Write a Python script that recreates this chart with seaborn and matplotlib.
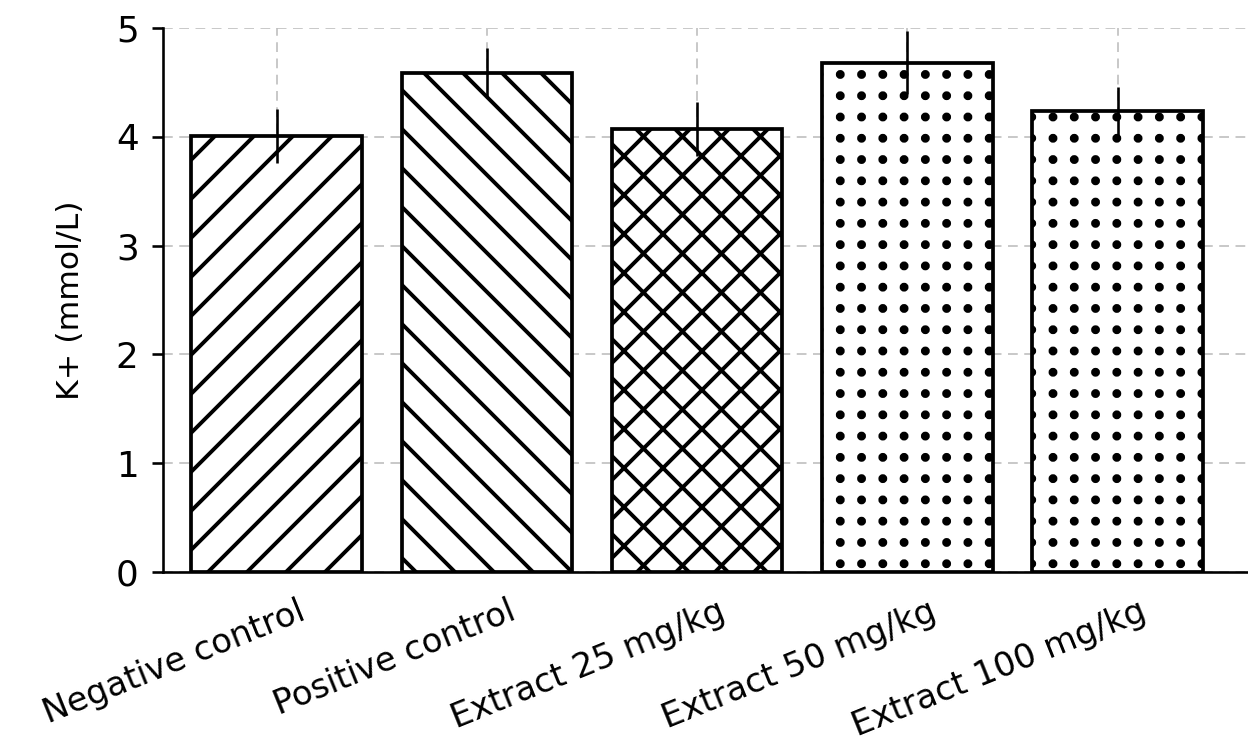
import numpy as np
import pandas as pd
import matplotlib
matplotlib.use("Agg")
import matplotlib.pyplot as plt
import matplotlib.hatch as mhatch
import matplotlib.transforms as mtransforms
from matplotlib.path import Path
import seaborn as sns

# data
groups = ["Negative control", "Positive control", "Extract 25 mg/kg",
          "Extract 50 mg/kg", "Extract 100 mg/kg"]
means = [4.01, 4.59, 4.07, 4.68, 4.24]
errs = [0.25, 0.23, 0.25, 0.29, 0.22]
hatches = ["//", "\\\\", "xx", ".", "."]


# '.' hatch as a square grid of dots instead of the staggered default
class SquareDots(mhatch.HatchPatternBase):
    def __init__(self, hatch, density):
        self.num_rows = hatch.count(".") * 11
        circle = Path.unit_circle()
        self.shape_vertices = circle.vertices
        self.shape_codes = circle.codes
        self.num_vertices = self.num_rows ** 2 * len(circle.vertices)

    def set_vertices_and_codes(self, vertices, codes):
        step = 1.0 / self.num_rows
        k = len(self.shape_vertices)
        i = 0
        for r in range(self.num_rows):
            for c in range(self.num_rows):
                vertices[i:i + k] = self.shape_vertices * 0.0105 + ((c + 0.5) * step, (r + 0.5) * step)
                codes[i:i + k] = self.shape_codes
                i += k


mhatch._hatch_types[mhatch._hatch_types.index(mhatch.SmallFilledCircles)] = SquareDots

sns.set_style("ticks")
plt.rcParams["font.family"] = ["DejaVu Sans"]
plt.rcParams["hatch.linewidth"] = 1.2
plt.rcParams["hatch.color"] = "black"
for k in ["text.color", "axes.labelcolor", "xtick.color", "ytick.color", "axes.edgecolor"]:
    plt.rcParams[k] = "black"

df = pd.DataFrame({"group": groups, "value": means})

dpi = 234
fig = plt.figure(figsize=(1248 / dpi, 745 / dpi), dpi=dpi)
ax = fig.add_axes([0.1306, 0.2322, 0.8694, 0.7302])

sns.barplot(data=df, x="group", y="value", color="white", saturation=1,
            edgecolor="black", linewidth=1.15, width=0.81, errorbar=None, ax=ax)
for bar, h in zip(ax.patches, hatches):
    bar.set_hatch(h)
    bar.set_facecolor("white")
    bar.set_edgecolor("black")

ax.errorbar(x=np.arange(len(groups)), y=means, yerr=errs, fmt="none",
            ecolor="black", elinewidth=0.8, capsize=0, zorder=3)

ax.set_ylim(0, 5)
ax.set_xlim(-0.54, 4.62)
ax.set_yticks([0, 1, 2, 3, 4, 5])
ax.set_axisbelow(True)
ax.grid(True, axis="both", color="#bdbdbd", linewidth=0.5, linestyle=(0, (6, 4)))

sns.despine(ax=ax)
ax.spines["left"].set_linewidth(0.8)
ax.spines["bottom"].set_linewidth(0.8)

ax.set_xlabel("")
ax.set_ylabel("K+ (mmol/L)", fontsize=9.7, labelpad=9.5)
ax.tick_params(axis="y", labelsize=11, length=3.5, width=0.8, pad=4)
ax.tick_params(axis="x", length=0, pad=7)
shift = mtransforms.ScaledTranslation(21 / dpi, 0, fig.dpi_scale_trans)
for lab in ax.get_xticklabels():
    lab.set_rotation(22)
    lab.set_ha("right")
    lab.set_rotation_mode("anchor")
    lab.set_fontsize(10.4)
    lab.set_transform(lab.get_transform() + shift)

fig.savefig("out.png", dpi=dpi)
